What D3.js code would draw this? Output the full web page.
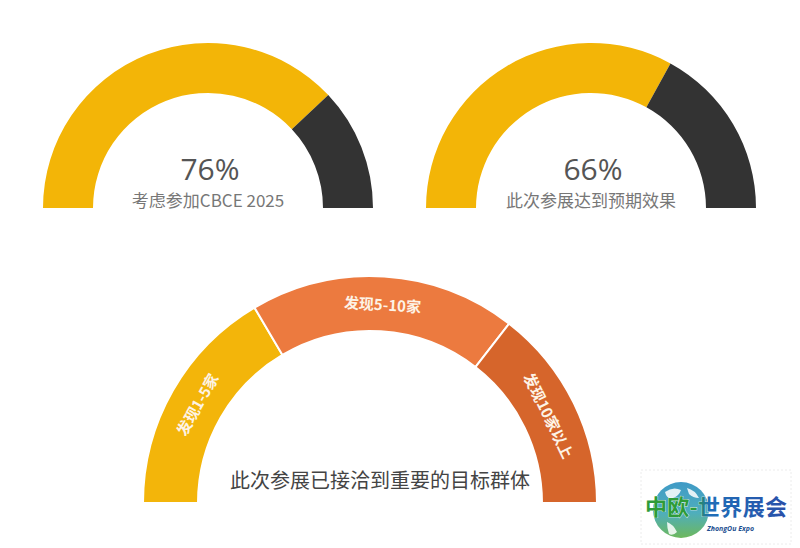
<!DOCTYPE html>
<html>
<head>
<meta charset="utf-8">
<script src="https://cdn.jsdelivr.net/npm/d3@7"></script>
<style>
  html, body { margin: 0; padding: 0; background: #fff; }
  svg { display: block; }
</style>
</head>
<body>
<svg id="chart" width="800" height="548"></svg>
<script>
// ---- data ----
const gaugeValues = [76, 66];
const gaugeLabels = ["考虑参加CBCE 2025", "此次参展达到预期效果"];
const segCategories = ["发现1-5家", "发现5-10家", "发现10家以上"];
const segValues = [33, 38, 29];
const bottomTitle = "此次参展已接洽到重要的目标群体";

// ---- styles ----
const gaugeColors = ["#F3B507", "#333333"];
const segColors = ["#F3B50A", "#EC7A3F", "#D6652B"];
const cjk = "'Noto Sans CJK SC', 'Noto Sans', sans-serif";

const svg = d3.select("#chart");

const pie = d3.pie().sort(null).startAngle(-Math.PI / 2).endAngle(Math.PI / 2);

// ---- top gauges ----
const gaugeCenters = [[208, 208], [591, 208]];
const gaugeArc = d3.arc().innerRadius(115).outerRadius(165);

gaugeValues.forEach((v, i) => {
  const g = svg.append("g").attr("transform", `translate(${gaugeCenters[i][0]},${gaugeCenters[i][1]})`);
  g.selectAll("path")
    .data(pie([v, 100 - v]))
    .join("path")
    .attr("d", gaugeArc)
    .attr("fill", (d, j) => gaugeColors[j]);
  g.append("text")
    .attr("x", 2).attr("y", -28)
    .attr("text-anchor", "middle")
    .attr("font-family", "'Open Sans', sans-serif")
    .attr("font-size", 30)
    .attr("fill", "#555")
    .text(v + "%");
  g.append("text")
    .attr("x", 0).attr("y", -1)
    .attr("text-anchor", "middle")
    .attr("font-family", cjk)
    .attr("font-size", 17)
    .attr("fill", "#777")
    .text(gaugeLabels[i]);
});

// ---- bottom gauge ----
const bc = [370, 503];
const segArc = d3.arc().innerRadius(172).outerRadius(227);
const bg = svg.append("g").attr("transform", `translate(${bc[0]},${bc[1]})`);
const segData = pie(segValues);
bg.selectAll("path")
  .data(segData)
  .join("path")
  .attr("d", segArc)
  .attr("fill", (d, i) => segColors[i])
  .attr("stroke", "#fff")
  .attr("stroke-width", 2);

bg.selectAll("text.seg")
  .data(segData)
  .join("text")
  .attr("class", "seg")
  .attr("transform", d => {
    const [x, y] = segArc.centroid(d);
    const a = (d.startAngle + d.endAngle) / 2 * 180 / Math.PI;
    return `translate(${x},${y}) rotate(${a})`;
  })
  .attr("text-anchor", "middle")
  .attr("dominant-baseline", "central")
  .attr("font-family", cjk)
  .attr("font-weight", "bold")
  .attr("font-size", 15)
  .attr("fill", "#FDF3E6")
  .text((d, i) => segCategories[i]);

bg.append("text")
  .attr("x", 10).attr("y", -15)
  .attr("text-anchor", "middle")
  .attr("font-family", cjk)
  .attr("font-size", 20)
  .attr("fill", "#444")
  .text(bottomTitle);

// ---- logo ----
const logo = svg.append("g").attr("transform", "translate(645,470)");
const defs = svg.append("defs");
const grad = defs.append("linearGradient").attr("id", "globe").attr("x1", "0").attr("y1", "0").attr("x2", "0").attr("y2", "1");
grad.append("stop").attr("offset", "0%").attr("stop-color", "#2A8FC0");
grad.append("stop").attr("offset", "55%").attr("stop-color", "#3BA5B5");
grad.append("stop").attr("offset", "100%").attr("stop-color", "#5DB04A");
const tg = defs.append("linearGradient").attr("id", "tgrad").attr("x1", "0").attr("x2", "1");
tg.append("stop").attr("offset", "0%").attr("stop-color", "#2E9B3A");
tg.append("stop").attr("offset", "35%").attr("stop-color", "#2E9B3A");
tg.append("stop").attr("offset", "45%").attr("stop-color", "#1F6FB8");
tg.append("stop").attr("offset", "100%").attr("stop-color", "#2A4FA8");
logo.append("rect").attr("x", -4).attr("y", 0).attr("width", 150).attr("height", 74)
  .attr("fill", "none").attr("stroke", "#ececec").attr("stroke-dasharray", "2,2");
logo.append("circle").attr("cx", 36).attr("cy", 40).attr("r", 28).attr("fill", "url(#globe)").attr("opacity", 0.9);
logo.append("path").attr("d", "M20,22 q8,-6 16,-2 q-2,6 -8,8 q-6,2 -8,-6z M42,18 q8,2 12,10 q-6,0 -10,-4z M22,52 q6,2 10,10 q-4,4 -8,2 q-2,-6 -2,-12z")
  .attr("fill", "#fff").attr("opacity", 0.85);
logo.append("text")
  .attr("x", 0).attr("y", 45)
  .attr("font-family", cjk)
  .attr("font-weight", "bold")
  .attr("font-size", 22)
  .attr("textLength", 142)
  .attr("fill", "url(#tgrad)")
  .attr("stroke", "#fff").attr("stroke-width", 0.6)
  .attr("paint-order", "stroke")
  .text("中欧-世界展会");
logo.append("text")
  .attr("x", 62).attr("y", 61)
  .attr("font-family", "'Open Sans', sans-serif")
  .attr("font-style", "italic")
  .attr("font-weight", "bold")
  .attr("font-size", 7)
  .attr("fill", "#1D4F91")
  .text("ZhongOu Expo");
</script>
</body>
</html>
